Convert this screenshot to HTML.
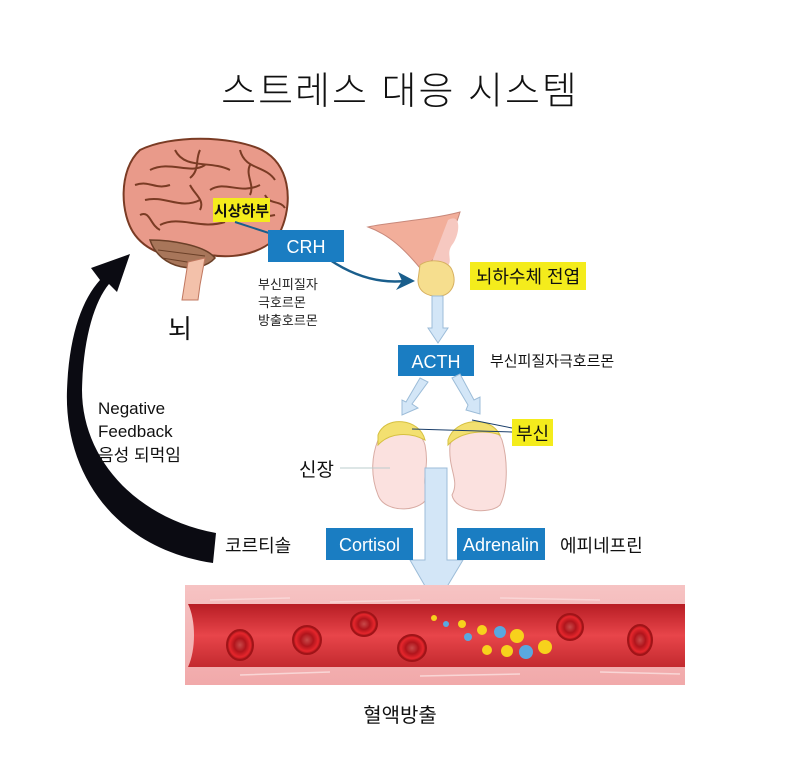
<!DOCTYPE html>
<html><head><meta charset="utf-8"><style>
html,body{margin:0;padding:0;background:#fff;}
svg{display:block;font-family:"Liberation Sans","Noto Sans CJK KR",sans-serif;}
</style></head><body>
<svg width="800" height="766" viewBox="0 0 800 766" xmlns="http://www.w3.org/2000/svg">
<defs>
<linearGradient id="vw" x1="0" y1="0" x2="0" y2="1">
<stop offset="0" stop-color="#f6c3c3"/><stop offset="1" stop-color="#f1a9aa"/></linearGradient>
<linearGradient id="vr" x1="0" y1="0" x2="0" y2="1">
<stop offset="0" stop-color="#b71d24"/><stop offset="0.5" stop-color="#e8454a"/><stop offset="1" stop-color="#c32a2f"/></linearGradient>
<radialGradient id="rbc"><stop offset="0" stop-color="#c84a4a"/><stop offset="0.45" stop-color="#b0151c"/><stop offset="0.8" stop-color="#e5262c"/><stop offset="1" stop-color="#a01418"/></radialGradient>
</defs>
<text x="400" y="104" text-anchor="middle" font-size="38" font-weight="300" letter-spacing="2" fill="#111">스트레스 대응 시스템</text>

<!-- black feedback arrow -->
<path d="M213,563 C112,548 64,470 67,390 C69,335 82,300 100,280 L91,268 L130,254 L117,292 L109,284 C94,302 83,340 82,390 C82,458 135,518 216,533 Z" fill="#0b0b12"/>

<!-- brain -->
<path d="M140,150 C170,135 230,135 262,150 C290,165 292,200 283,225 C275,250 240,260 210,255 C180,262 150,255 135,235 C120,215 118,170 140,150 Z" fill="#e99a8a" stroke="#7a3b24" stroke-width="2"/>
<path d="M150,170 C170,160 190,175 205,165 M175,150 C185,170 210,160 230,170 M145,200 C165,195 180,210 200,200 M210,190 C225,180 240,195 260,185 M160,225 C180,215 200,230 225,222 M240,150 C245,170 265,165 275,180 M230,210 C245,205 255,220 275,215 M135,185 C150,180 155,190 170,185 M190,185 C195,195 205,200 200,210 M250,165 C245,175 255,185 250,195 M140,215 C150,210 150,225 160,230 M200,150 C195,160 200,170 190,178 M265,195 C270,205 280,200 285,208" stroke="#7a3b24" stroke-width="2" fill="none"/>
<path d="M150,240 C160,270 200,275 215,258 C205,245 170,240 150,240 Z" fill="#a8765a" stroke="#6b4028" stroke-width="1.5"/>
<path d="M158,250 L205,256 M162,258 L200,264" stroke="#6b4028" stroke-width="1"/>
<path d="M188,262 L205,258 L200,285 L198,300 L182,300 Z" fill="#f3c1aa" stroke="#c07860" stroke-width="1"/>
<rect x="213" y="198" width="57" height="24" fill="#f4ec1c"/>
<text x="241.5" y="216" text-anchor="middle" font-size="15" font-weight="bold" fill="#111">시상하부</text>
<text x="180" y="338" text-anchor="middle" font-size="26" fill="#111">뇌</text>

<!-- CRH -->
<path d="M235,222 L275,235" stroke="#1a5e8c" stroke-width="2"/>
<path d="M330,260 C360,280 385,283 405,281" stroke="#1a5e8c" stroke-width="2.5" fill="none"/>
<path d="M415,281 L398,272 L402,281 L396,290 Z" fill="#1a5e8c"/>
<rect x="268" y="230" width="76" height="32" fill="#1a7dc2"/>
<text x="306" y="253" text-anchor="middle" font-size="18" fill="#fff">CRH</text>
<text x="258" y="289" font-size="13" fill="#222">부신피질자</text>
<text x="258" y="307" font-size="13" fill="#222">극호르몬</text>
<text x="258" y="325" font-size="13" fill="#222">방출호르몬</text>

<!-- pituitary -->
<path d="M368,227 C390,222 430,220 460,212 C455,230 445,245 440,255 C430,262 425,265 420,268 C405,250 390,235 368,227 Z" fill="#f2ae9a" stroke="#c8887a" stroke-width="1"/>
<path d="M448,220 C462,212 460,235 452,245 C445,255 455,262 445,268 L432,262 Z" fill="#f6c8c0"/>
<path d="M420,265 C430,258 448,260 452,270 C458,285 450,295 440,296 C428,297 418,292 418,280 Z" fill="#f6de8e" stroke="#d7b060" stroke-width="1"/>
<rect x="470" y="262" width="116" height="28" fill="#f4ec1c"/>
<text x="528" y="283" text-anchor="middle" font-size="18" fill="#111">뇌하수체 전엽</text>

<!-- arrow down to ACTH -->
<path d="M432,296 L443,296 L443,328 L448,328 L438,343 L428,328 L432,328 Z" fill="#d3e6f7" stroke="#9cbcd8" stroke-width="1"/>
<rect x="398" y="345" width="76" height="31" fill="#1a7dc2"/>
<text x="436" y="368" text-anchor="middle" font-size="18" fill="#fff">ACTH</text>
<text x="490" y="366" font-size="15" fill="#111">부신피질자극호르몬</text>

<!-- diagonal arrows -->
<path d="M420,378 L428,382 L412,404 L418,408 L402,415 L402,400 L406,402 Z" fill="#d3e6f7" stroke="#9cbcd8" stroke-width="1"/>
<path d="M452,378 L460,374 L474,400 L480,397 L480,414 L466,410 L468,405 Z" fill="#d3e6f7" stroke="#9cbcd8" stroke-width="1"/>

<!-- kidneys -->
<path d="M378,440 C385,420 420,425 425,445 C430,470 420,478 428,495 C425,512 385,515 378,495 C370,475 372,455 378,440 Z" fill="#fbe1df" stroke="#d8aba3" stroke-width="1"/>
<path d="M450,445 C455,425 495,420 502,440 C508,460 508,490 500,505 C490,515 455,512 452,495 C460,480 448,470 450,445 Z" fill="#fbe1df" stroke="#d8aba3" stroke-width="1"/>
<path d="M378,435 C385,415 420,418 425,440 C410,432 390,432 378,445 Z" fill="#f3e070" stroke="#d6c040" stroke-width="1"/>
<path d="M448,440 C455,418 490,415 500,435 C488,430 462,430 448,445 Z" fill="#f3e070" stroke="#d6c040" stroke-width="1"/>
<path d="M412,429 L512,432 M472,420 L512,428" stroke="#1a3e6a" stroke-width="1"/>
<rect x="512" y="419" width="41" height="27" fill="#f4ec1c"/>
<text x="532.5" y="440" text-anchor="middle" font-size="18" fill="#111">부신</text>
<text x="299" y="476" font-size="19" fill="#111">신장</text>
<path d="M340,468 L390,468" stroke="#bcc" stroke-width="1"/>

<!-- big arrow -->
<path d="M425,468 L447,468 L447,560 L463,560 L436,605 L410,560 L425,560 Z" fill="#d3e6f7" stroke="#9cbcd8" stroke-width="1"/>

<text x="225" y="552" font-size="18" fill="#111">코르티솔</text>
<rect x="326" y="528" width="87" height="32" fill="#1a7dc2"/>
<text x="369.5" y="551" text-anchor="middle" font-size="18" fill="#fff">Cortisol</text>
<rect x="457" y="528" width="88" height="32" fill="#1a7dc2"/>
<text x="501" y="551" text-anchor="middle" font-size="18" fill="#fff">Adrenalin</text>
<text x="560" y="552" font-size="18" fill="#111">에피네프린</text>

<text x="98" y="414" font-size="17" fill="#111">Negative</text>
<text x="98" y="437" font-size="17" fill="#111">Feedback</text>
<text x="98" y="461" font-size="17" fill="#111">음성 되먹임</text>

<!-- vessel -->
<rect x="185" y="585" width="500" height="100" fill="url(#vw)"/>
<path d="M210,600 L290,598 M330,602 L420,600 M500,598 L600,600 M240,675 L330,672 M420,676 L520,674 M600,672 L680,674" stroke="#f9d6d6" stroke-width="1.5"/>
<path d="M188,604 L685,604 L685,667 L188,667 C196,650 196,620 188,604 Z" fill="url(#vr)"/>
<g stroke="#a01418" stroke-width="2">
<ellipse cx="240" cy="645" rx="13" ry="15" fill="url(#rbc)"/>
<ellipse cx="307" cy="640" rx="14" ry="14" fill="url(#rbc)"/>
<ellipse cx="364" cy="624" rx="13" ry="12" fill="url(#rbc)"/>
<ellipse cx="412" cy="648" rx="14" ry="13" fill="url(#rbc)"/>
<ellipse cx="570" cy="627" rx="13" ry="13" fill="url(#rbc)"/>
<ellipse cx="640" cy="640" rx="12" ry="15" fill="url(#rbc)"/>
</g>
<g fill="#f7d21c">
<circle cx="434" cy="618" r="3"/><circle cx="462" cy="624" r="4"/><circle cx="482" cy="630" r="5"/>
<circle cx="517" cy="636" r="7"/><circle cx="487" cy="650" r="5"/><circle cx="507" cy="651" r="6"/><circle cx="545" cy="647" r="7"/>
</g>
<g fill="#5aa8e0">
<circle cx="446" cy="624" r="3"/><circle cx="468" cy="637" r="4"/><circle cx="500" cy="632" r="6"/><circle cx="526" cy="652" r="7"/>
</g>
<text x="400" y="722" text-anchor="middle" font-size="20" fill="#111">혈액방출</text>
</svg>
</body></html>
